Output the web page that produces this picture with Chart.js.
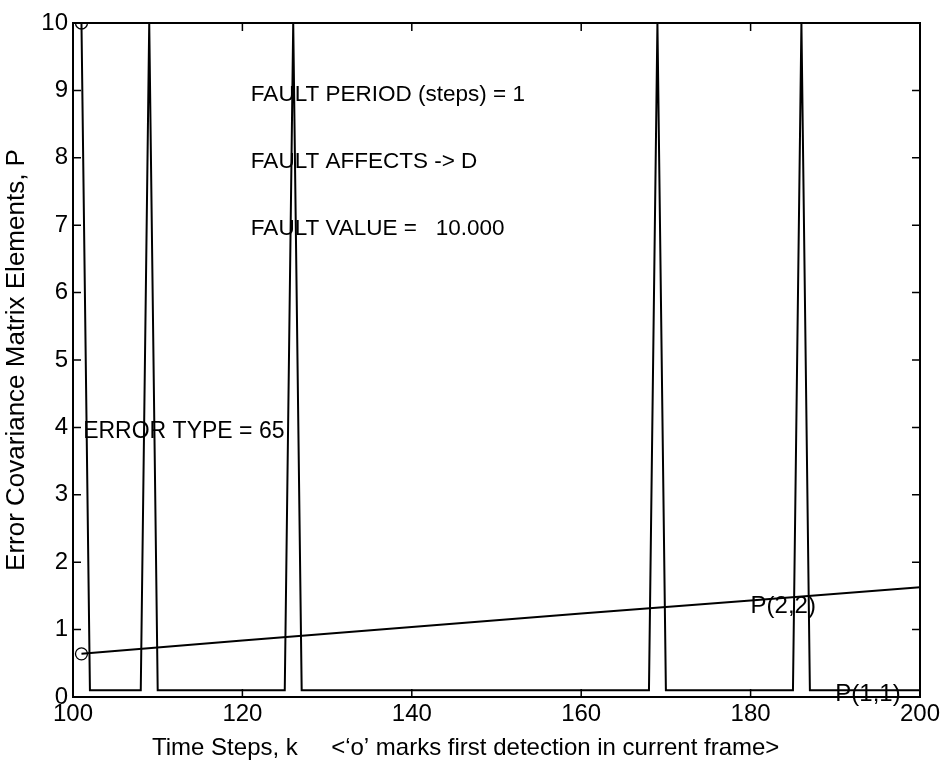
<!DOCTYPE html>
<html>
<head>
<meta charset="utf-8">
<script src="https://cdn.jsdelivr.net/npm/chart.js@4/dist/chart.umd.min.js"></script>
<style>
  body { margin: 0; background: #fff; }
  #wrap { width: 948px; height: 761px; }
</style>
</head>
<body>
<div id="wrap"><canvas id="myChart"></canvas></div>
<script>
// P(1,1) trace: square pulses
const p11Steps = [100, 101, 102, 108, 109, 110, 125, 126, 127, 168, 169, 170, 185, 186, 187, 200];
const p11Values = [10, 10, 0.1, 0.1, 10, 0.1, 0.1, 10, 0.1, 0.1, 10, 0.1, 0.1, 10, 0.1, 0.1];

// P(2,2) trace: slow linear growth
const p22Steps = [101, 120, 140, 160, 180, 200];
const p22Values = [0.64, 0.84, 1.04, 1.24, 1.43, 1.63];

// 'o' markers: first detection
const detectSteps = [101, 101];
const detectValues = [10, 0.64];

// tick labels
const xTicks = [100, 120, 140, 160, 180, 200];
const yTicks = [0, 1, 2, 3, 4, 5, 6, 7, 8, 9, 10];

// text notes placed in data coordinates
const noteText = ['FAULT PERIOD (steps) = 1', 'FAULT AFFECTS -> D', 'FAULT VALUE =   10.000', 'ERROR TYPE = 65', 'P(2,2)', 'P(1,1)'];
const noteK = [121, 121, 121, 101.2, 180, 190];
const noteP = [9.0, 8.0, 7.0, 4.0, 1.4, 0.1];
const noteSize = [22.5, 22.5, 22.5, 23, 24, 24];

const FONT = '"Liberation Sans", Arial, Helvetica, sans-serif';

function toPoints(xs, ys) {
  return xs.map(function(x, i) { return { x: x, y: ys[i] }; });
}

// draws the box, inside ticks, notes and the x label
const framePlugin = {
  id: 'frame',
  afterDatasetsDraw(chart) {
    const ctx = chart.ctx;
    const a = chart.chartArea;
    const xs = chart.scales.x;
    const ys = chart.scales.y;
    ctx.save();
    ctx.strokeStyle = '#000';
    ctx.lineWidth = 2;
    ctx.strokeRect(a.left, a.top, a.right - a.left, a.bottom - a.top);

    ctx.lineWidth = 1.5;
    ctx.beginPath();
    xTicks.forEach(function(v) {
      const px = xs.getPixelForValue(v);
      ctx.moveTo(px, a.bottom); ctx.lineTo(px, a.bottom - 8);
      ctx.moveTo(px, a.top); ctx.lineTo(px, a.top + 8);
    });
    yTicks.forEach(function(v) {
      const py = ys.getPixelForValue(v);
      ctx.moveTo(a.left, py); ctx.lineTo(a.left + 8, py);
      ctx.moveTo(a.right, py); ctx.lineTo(a.right - 8, py);
    });
    ctx.stroke();

    ctx.fillStyle = '#000';
    ctx.textBaseline = 'middle';
    ctx.textAlign = 'left';
    noteText.forEach(function(t, i) {
      ctx.font = noteSize[i] + 'px ' + FONT;
      ctx.fillText(t, xs.getPixelForValue(noteK[i]), ys.getPixelForValue(noteP[i]) + 4);
    });

    ctx.font = '24px ' + FONT;
    ctx.fillText('Time Steps, k     <\u2018o\u2019 marks first detection in current frame>', 152, 748);
    ctx.restore();
  }
};

function drawChart() {
  const ctx = document.getElementById('myChart').getContext('2d');
  new Chart(ctx, {
    type: 'scatter',
    data: {
      datasets: [
        {
          label: 'P(1,1)',
          data: toPoints(p11Steps, p11Values),
          showLine: true,
          borderColor: '#000',
          borderWidth: 2,
          pointRadius: 0
        },
        {
          label: 'P(2,2)',
          data: toPoints(p22Steps, p22Values),
          showLine: true,
          borderColor: '#000',
          borderWidth: 2,
          pointRadius: 0
        },
        {
          label: 'detection',
          data: toPoints(detectSteps, detectValues),
          showLine: false,
          borderColor: '#000',
          backgroundColor: 'rgba(0,0,0,0)',
          borderWidth: 1.3,
          pointRadius: 6,
          pointStyle: 'circle'
        }
      ]
    },
    options: {
      responsive: true,
      maintainAspectRatio: false,
      animation: false,
      layout: { padding: { top: 23, right: 28, left: 0, bottom: 0 } },
      plugins: {
        legend: { display: false },
        tooltip: { enabled: false }
      },
      scales: {
        x: {
          type: 'linear',
          min: 100,
          max: 200,
          grid: { display: false, drawTicks: false },
          border: { display: false },
          afterBuildTicks: function(scale) {
            scale.ticks = xTicks.map(function(v) { return { value: v }; });
          },
          afterFit: function(scale) { scale.height = 64; },
          ticks: {
            color: '#000',
            padding: 3,
            maxRotation: 0,
            font: { family: FONT, size: 24 }
          }
        },
        y: {
          min: 0,
          max: 10,
          grid: { display: false, drawTicks: false },
          border: { display: false },
          afterBuildTicks: function(scale) {
            scale.ticks = yTicks.map(function(v) { return { value: v }; });
          },
          afterFit: function(scale) { scale.width = 73; },
          ticks: {
            color: '#000',
            padding: 5,
            font: { family: FONT, size: 24 }
          },
          title: {
            display: true,
            text: 'Error Covariance Matrix Elements, P',
            color: '#000',
            padding: { top: 1, bottom: 0 },
            font: { family: FONT, size: 26 }
          }
        }
      }
    },
    plugins: [framePlugin]
  });
}

window.onload = drawChart;
</script>
</body>
</html>
